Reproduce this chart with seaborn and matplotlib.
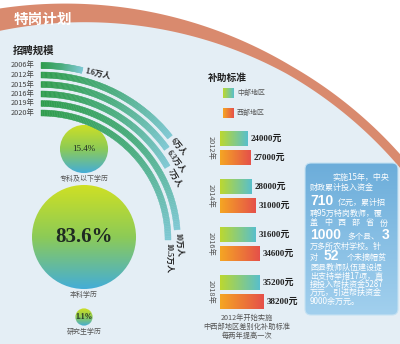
import numpy as np
import pandas as pd
import matplotlib
matplotlib.use('Agg')
import matplotlib.pyplot as plt
import seaborn as sns
from matplotlib.colors import LinearSegmentedColormap
from matplotlib.collections import PolyCollection
from matplotlib.patches import Circle, Polygon, FancyBboxPatch, Rectangle

years = ['2006年', '2012年', '2015年', '2016年', '2019年', '2020年']
recruit = [1.6, 6, 6.3, 7, 10, 10.5]          # 万人
recruit_labels = ['1.6万人', '6万人', '6.3万人', '7万人', '10万人', '10.5万人']

edu_labels = ['专科及以下学历', '本科学历', '研究生学历']
edu_share = [15.4, 83.6, 1.1]                  # %

sub_years = ['2012年', '2014年', '2016年', '2018年']
sub_central = [24000, 28000, 31600, 35200]     # 元
sub_west = [27000, 31000, 34600, 38200]
regions = ['中部地区', '西部地区']

SERIF = ['Liberation Serif', 'Noto Sans CJK SC']
CJK = ['Noto Sans CJK SC', 'DejaVu Sans']

sns.set_style('white')
plt.rcParams['font.family'] = CJK

fig = plt.figure(figsize=(4, 3.44), dpi=100)
fig.patch.set_facecolor('white')
ax = fig.add_axes([0, 0, 1, 1])
ax.set_xlim(0, 400)
ax.set_ylim(344, 0)
ax.axis('off')


def grad_fill(axis, patch, colors, extent, horizontal=False, z=2):
    cmap = LinearSegmentedColormap.from_list('g', colors)
    arr = np.linspace(0, 1, 256)
    arr = arr.reshape(1, -1) if horizontal else arr.reshape(-1, 1)
    im = axis.imshow(arr, cmap=cmap, extent=extent, aspect='auto',
                     origin='upper', interpolation='bilinear', zorder=z)
    im.set_clip_path(patch)
    return im


# background disc and the salmon arc
cx0, cy0, R0 = 75, 444, 431
ax.add_patch(Circle((cx0, cy0), R0, fc='#e4eef5', ec='none', zorder=0))
phi = np.linspace(np.arcsin((-5 - cx0) / R0), np.arcsin((405 - cx0) / R0), 300)
xs = cx0 + R0 * np.sin(phi)
w = np.clip(22 - 0.045 * xs, 9, None)
outer = np.c_[cx0 + (R0 + w / 2) * np.sin(phi), cy0 - (R0 + w / 2) * np.cos(phi)]
inner = np.c_[cx0 + (R0 - w / 2) * np.sin(phi), cy0 - (R0 - w / 2) * np.cos(phi)]
ax.add_patch(Polygon(np.vstack([outer, inner[::-1]]), fc='#d98a6e', ec='none', zorder=1))
ax.text(43, 19, '特岗计划', color='white', fontsize=10.5, fontweight='bold',
        ha='center', va='center', zorder=2)

# ---- 招聘规模: curved bars ----
ax.text(13, 51, '招聘规模', fontsize=7.5, fontweight='bold', color='#222',
        ha='left', va='center')
acx, acy = 41, 240
r_in, dr, thick = 127, 9.5, 6
deg_per = 90 / 10.5
cmap_bar = LinearSegmentedColormap.from_list('bar', ['#2f9c4c', '#4aad7e', '#7ec8d3'])
n = len(years)
for i, (yr, v, lab) in enumerate(zip(years, recruit, recruit_labels)):
    r = r_in + dr * (n - 1 - i)
    th = np.radians(np.linspace(0, v * deg_per, 120))
    polys = []
    for a, b in zip(th[:-1], th[1:]):
        polys.append([(acx + (r + thick / 2) * np.sin(a), acy - (r + thick / 2) * np.cos(a)),
                      (acx + (r + thick / 2) * np.sin(b), acy - (r + thick / 2) * np.cos(b)),
                      (acx + (r - thick / 2) * np.sin(b), acy - (r - thick / 2) * np.cos(b)),
                      (acx + (r - thick / 2) * np.sin(a), acy - (r - thick / 2) * np.cos(a))])
    cols = cmap_bar(np.linspace(0, 1, len(polys)))
    ax.add_collection(PolyCollection(polys, facecolors=cols, edgecolors=cols,
                                     linewidths=0.3, zorder=3))
    ax.text(11, acy - r, yr, fontsize=5.3, color='#444', ha='left', va='center')
    te = th[-1]
    ex, ey = acx + r * np.sin(te), acy - r * np.cos(te)
    ax.text(ex + 3 * np.cos(te), ey + 3 * np.sin(te), lab, rotation=-np.degrees(te),
            rotation_mode='anchor', ha='left', va='center', fontsize=5.8,
            fontweight='bold', color='#222', family=SERIF, zorder=4)

# ---- education bubbles ----
bub_y = [149, 237, 317]
bub_cols = ['#d0e023', '#8dcb56', '#44add7']
txt_size = [6.5, 15, 5.5]
for lab, p, by, fs in zip(edu_labels, edu_share, bub_y, txt_size):
    rb = 3 + 5.36 * np.sqrt(p)
    c = Circle((84, by), rb, fc='none', ec='none', zorder=2)
    ax.add_patch(c)
    grad_fill(ax, c, bub_cols, (84 - rb, 84 + rb, by + rb, by - rb))
    ax.text(84, by, f'{p}%', fontsize=fs, family=SERIF, color='#1f2a22',
            fontweight='bold' if p != 15.4 else 'normal', ha='center', va='center', zorder=4)
    ax.text(84, by + rb + 6, lab, fontsize=5, color='#555', ha='center', va='center')

# ---- 补助标准 legend ----
ax.text(208, 78, '补助标准', fontsize=7, fontweight='bold', color='#222', ha='left', va='center')
grads = [['#bcd82f', '#58bfcc'], ['#f5a623', '#e5504a']]
for k, (reg, gc) in enumerate(zip(regions, grads)):
    y0 = 88 + 20 * k
    sq = Rectangle((223, y0), 11, 10, fc='none', ec='none')
    ax.add_patch(sq)
    grad_fill(ax, sq, gc, (223, 234, y0 + 10, y0), horizontal=True)
    ax.text(237, y0 + 5, reg, fontsize=5, color='#555', ha='left', va='center')

ax.text(247, 318, '2012年开始实施', fontsize=5.2, color='#555', ha='center', va='center')
ax.text(247, 327, '中西部地区差别化补助标准', fontsize=5.2, color='#555', ha='center', va='center')
ax.text(247, 336, '每两年提高一次', fontsize=5.2, color='#555', ha='center', va='center')

# ---- info box ----
box = FancyBboxPatch((305, 163), 93, 152, boxstyle='round,pad=0,rounding_size=6',
                     fc='none', ec='#c5e2f3', lw=0.8, zorder=5)
ax.add_patch(box)
grad_fill(ax, box, ['#6cadda', '#a2d0ee'], (305, 398, 315, 163), z=4)

small = dict(fontsize=5.8, color='white', ha='left', va='center', zorder=6)
big = dict(fontsize=10, color='white', ha='left', va='center', zorder=6,
           family=['Liberation Sans'], fontweight='bold')
ax.text(332, 177, '实施15年，中央', **small)
ax.text(310, 187, '财政累计投入资金', **small)
ax.text(310, 201, '710', **big)
ax.text(338, 202, '亿元，累计招', **small)
ax.text(310, 213, '聘95万特岗教师，覆', **small)
for j, ch in enumerate('盖中西部省份'):
    ax.text(314 + j * 14, 223, ch, fontsize=5.8, color='white', ha='center', va='center', zorder=6)
ax.text(310, 235, '1000', **big)
ax.text(347, 236, '多个县、', **small)
ax.text(382, 235, '3', **big)
ax.text(310, 246, '万多所农村学校。针', **small)
ax.text(310, 257, '对', **small)
ax.text(324, 256, '52', **big)
ax.text(347, 257, '个未摘帽贫', **small)
ax.text(310, 267, '困县教师队伍建设提', **small)
ax.text(310, 276, '出支持举措17项，直', **small)
ax.text(310, 284, '接投入帮扶资金5287', **small)
ax.text(310, 292, '万元，引进帮扶资金', **small)
ax.text(310, 301, '9000余万元。', **small)

ax.set_xlim(0, 400)
ax.set_ylim(344, 0)

# ---- subsidy bars via seaborn ----
ax2 = fig.add_axes([220 / 400, (344 - 316) / 344, 100 / 400, 192 / 344])
df = pd.DataFrame({'year': sub_years * 2,
                   'region': [regions[0]] * len(sub_years) + [regions[1]] * len(sub_years),
                   'value': sub_central + sub_west})
sns.barplot(data=df, x='value', y='year', hue='region', hue_order=regions, orient='h',
            width=0.8, gap=0.2, palette=['#8fcf4a', '#ee7f3a'], legend=False,
            errorbar=None, ax=ax2)
for cont, gc in zip(ax2.containers, grads):
    for bar in cont:
        x0, yb, bw, bh = bar.get_x(), bar.get_y(), bar.get_width(), bar.get_height()
        bar.set_facecolor('none')
        bar.set_edgecolor('none')
        grad_fill(ax2, bar, gc, (x0, x0 + bw, yb + bh, yb), horizontal=True)
        ax2.text(bw + 2600, yb + bh / 2, f'{int(bw)}元', fontsize=6.5, fontweight='bold',
                 family=SERIF, color='#222', ha='left', va='center', clip_on=False)
for i, yr in enumerate(sub_years):
    ax2.text(-0.09, i, yr, transform=ax2.get_yaxis_transform(), rotation=-90,
             fontsize=5.3, color='#555', ha='center', va='center')
ax2.set_xlim(0, 88000)
ax2.set_ylim(3.5, -0.5)
ax2.axis('off')

fig.savefig('out.png', dpi=100)
